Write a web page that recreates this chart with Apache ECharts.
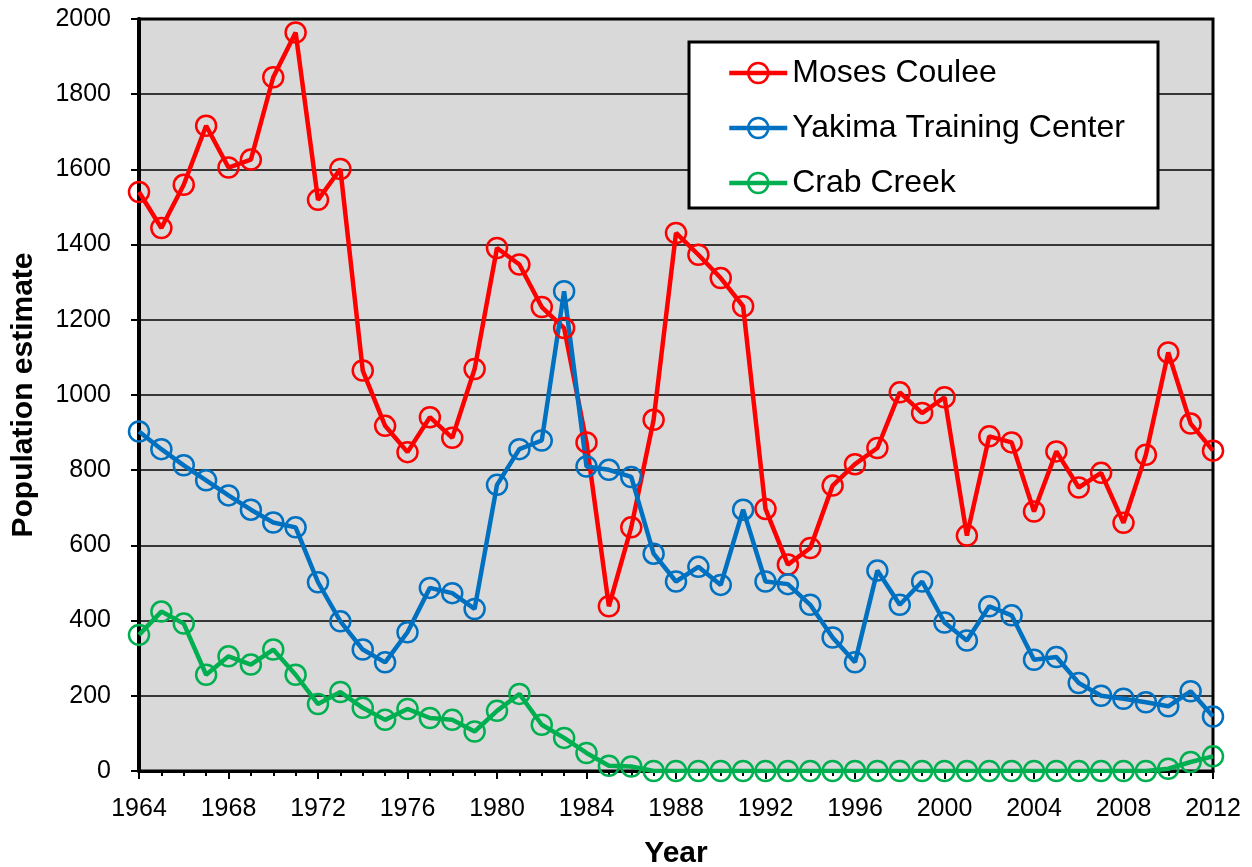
<!DOCTYPE html>
<html>
<head>
<meta charset="utf-8">
<script src="https://cdn.jsdelivr.net/npm/echarts@6/dist/echarts.min.js"></script>
<style>
html,body{margin:0;padding:0;background:#fff;}
#chart{width:1252px;height:867px;}
</style>
</head>
<body>
<div id="chart"></div>
<script>
const years = [1964,1965,1966,1967,1968,1969,1970,1971,1972,1973,1974,1975,1976,1977,1978,1979,1980,1981,1982,1983,1984,1985,1986,1987,1988,1989,1990,1991,1992,1993,1994,1995,1996,1997,1998,1999,2000,2001,2002,2003,2004,2005,2006,2007,2008,2009,2010,2011,2012];
const mosesCoulee = [1540,1444,1559,1716,1605,1626,1845,1964,1519,1601,1065,918,848,941,886,1069,1391,1347,1234,1178,874,438,648,934,1431,1373,1311,1236,697,549,593,759,816,859,1007,952,994,626,890,874,690,850,754,793,660,841,1113,924,852];
const yakima = [903,856,813,773,733,695,661,648,502,398,323,289,369,487,473,431,761,856,879,1276,810,801,782,578,504,543,495,695,504,497,442,355,289,533,442,504,395,347,438,414,296,303,234,200,192,183,172,212,145];
const crabCreek = [362,424,392,256,305,283,323,256,178,210,168,136,165,141,136,105,160,205,123,88,48,14,12,0,0,0,0,0,0,0,0,0,0,0,0,0,0,0,0,0,0,0,0,0,0,0,6,24,39];
const seriesNames = ['Moses Coulee','Yakima Training Center','Crab Creek'];
const seriesColors = ['#FF0000','#0070C0','#00B050'];
const seriesValues = [mosesCoulee, yakima, crabCreek];

const chart = echarts.init(document.getElementById('chart'));
const font = '"Liberation Sans", Arial, sans-serif';
chart.setOption({
  animation: false,
  backgroundColor: '#fff',
  grid: {left: 139, right: 39, top: 19, bottom: 96, outerBoundsMode: 'none', containLabel: false, show: true, backgroundColor: '#d9d9d9', borderColor: '#000', borderWidth: 3},
  graphic: [{
    type: 'rect', z: 3,
    shape: {x: 689, y: 42, width: 469, height: 166},
    style: {fill: '#fff', stroke: '#000', lineWidth: 3}
  }],
  legend: {
    orient: 'vertical', left: 727, top: 57, z: 4,
    padding: 0,
    itemWidth: 58, itemHeight: 25, itemGap: 23,
    lineStyle: {width: 4.5},
    itemStyle: {borderWidth: 2.5},
    textStyle: {fontFamily: font, fontSize: 32, color: '#000', lineHeight: 32},
    data: seriesNames
  },
  xAxis: {
    type: 'value', min: 1964, max: 2012, interval: 4,
    name: 'Year', nameLocation: 'middle', nameGap: 68,
    nameTextStyle: {fontFamily: font, fontSize: 30, fontWeight: 'bold', color: '#000'},
    axisLine: {show: true, lineStyle: {color: '#000', width: 3}},
    axisTick: {show: true, length: 8, lineStyle: {color: '#000', width: 2}},
    minorTick: {show: true, splitNumber: 4, length: 5, lineStyle: {color: '#000', width: 2}},
    axisLabel: {margin: 26, fontFamily: font, fontSize: 25, color: '#000', formatter: v => String(v)},
    splitLine: {show: false}
  },
  yAxis: {
    type: 'value', min: 0, max: 2000, interval: 200,
    name: 'Population estimate', nameLocation: 'middle', nameGap: 100,
    nameTextStyle: {fontFamily: font, fontSize: 30, fontWeight: 'bold', color: '#000'},
    axisLine: {show: true, lineStyle: {color: '#000', width: 4}},
    axisTick: {show: true, length: 8, lineStyle: {color: '#000', width: 2}},
    axisLabel: {margin: 28, fontFamily: font, fontSize: 25, color: '#000', formatter: v => String(v)},
    splitLine: {show: true, lineStyle: {color: '#000', width: 1.5}}
  },
  series: seriesNames.map((name, i) => ({
    name: name, type: 'line',
    data: years.map((y, j) => [y, seriesValues[i][j]]),
    symbol: 'circle', symbolSize: 20,
    lineStyle: {color: seriesColors[i], width: 4.5},
    itemStyle: {color: 'transparent', borderColor: seriesColors[i], borderWidth: 2.5},
    emphasis: {disabled: true},
    z: 2
  }))
});
</script>
</body>
</html>
